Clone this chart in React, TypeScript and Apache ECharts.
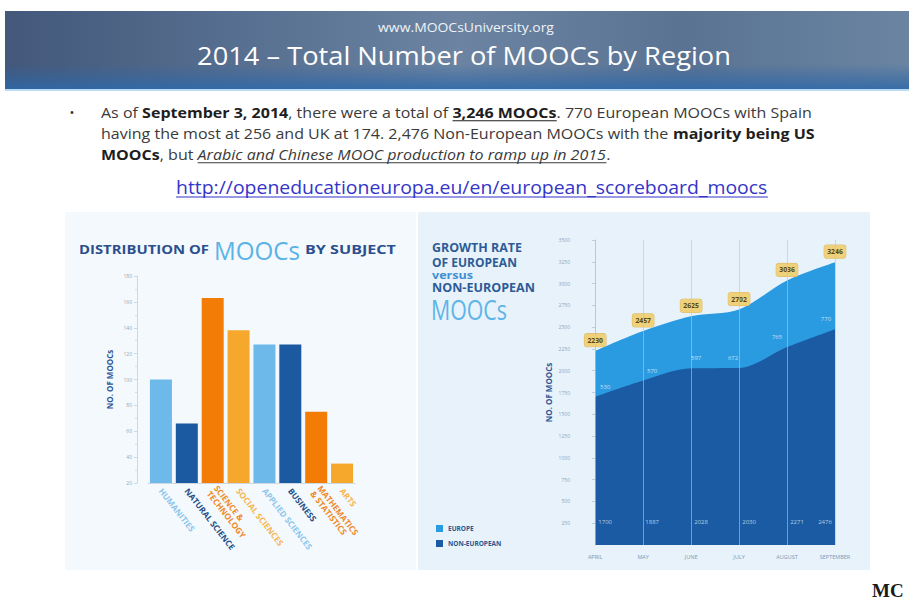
import React, { useEffect, useRef } from 'react';
import * as echarts from 'echarts';

// ---------- data ----------
const subjects = [
  'HUMANITIES',
  'NATURAL SCIENCE',
  'SCIENCE &\nTECHNOLOGY',
  'SOCIAL SCIENCES',
  'APPLIED SCIENCES',
  'BUSINESS',
  'MATHEMATICS\n& STATISTICS',
  'ARTS',
];
const subjectCounts = [100, 66, 163, 138, 127, 127, 75, 35];
const subjectColors = ['#6cb9ea', '#1b5aa0', '#f27c05', '#f6a82c', '#6cb9ea', '#1b5aa0', '#f27c05', '#f6a82c'];
const subjectLabelColors = ['#8cc6ec', '#234f86', '#f08a2a', '#f6b552', '#8cc6ec', '#234f86', '#f08a2a', '#f6b552'];

const months = ['APRIL', 'MAY', 'JUNE', 'JULY', 'AUGUST', 'SEPTEMBER'];
const europe = [530, 570, 597, 672, 765, 770];
const nonEuropean = [1700, 1887, 2028, 2030, 2271, 2476];

const EU_COLOR = '#2a9be0';
const NONEU_COLOR = '#1a5ba3';

const SANS = 'Open Sans';

export default function App() {
  const ref = useRef<HTMLDivElement>(null);

  useEffect(() => {
    if (!ref.current) return;
    const chart = echarts.init(ref.current, null, { renderer: 'svg', width: 909, height: 599 });

    const cv = document.createElement('canvas');
    const ctx = cv.getContext('2d') as CanvasRenderingContext2D;
    const mw = (t: string, size: number, family: string, weight = 'normal', style = 'normal') => {
      ctx.font = `${style} ${weight} ${size}px "${family}"`;
      return ctx.measureText(t).width;
    };

    const fitText = (
      text: string, x: number, y: number, w: number, size: number,
      weight: string, fill: string, family = SANS, align = 'left', style = 'normal'
    ) => ({
      type: 'text',
      x, y,
      scaleX: w / mw(text, size, family, weight, style),
      style: {
        text, fontSize: size, fontFamily: family, fontWeight: weight, fontStyle: style,
        fill, textAlign: align, textVerticalAlign: 'middle',
      },
    });

    type Seg = [string, string];
    const lineGroup = (x: number, y: number, segs: Seg[], size: number, scaleX: number) => {
      let cx = 0;
      const children: any[] = [];
      segs.forEach(([t, f]) => {
        const weight = f.includes('b') ? 'bold' : 'normal';
        const style = f.includes('i') ? 'italic' : 'normal';
        const fill = f.includes('b') ? '#1e1e1e' : '#3a3a3a';
        const w = mw(t, size, SANS, weight, style);
        children.push({
          type: 'text', x: cx, y: 0,
          style: { text: t, fontSize: size, fontFamily: SANS, fontWeight: weight, fontStyle: style, fill, textAlign: 'left', textVerticalAlign: 'middle' },
        });
        if (f.includes('u')) {
          const tw = mw(t.replace(/\s+$/, ''), size, SANS, weight, style);
          children.push({ type: 'line', shape: { x1: cx, y1: size * 0.62, x2: cx + tw, y2: size * 0.62 }, style: { stroke: fill, lineWidth: 1 } });
        }
        cx += w;
      });
      return { type: 'group', x, y, scaleX, children };
    };
    const segWidth = (segs: Seg[], size: number) =>
      segs.reduce((s, [t, f]) => s + mw(t, size, SANS, f.includes('b') ? 'bold' : 'normal', f.includes('i') ? 'italic' : 'normal'), 0);

    const line1: Seg[] = [['As of ', ''], ['September 3, 2014', 'b'], [', there were a total of ', ''], ['3,246 MOOCs', 'bu'], ['. 770 European MOOCs with Spain', '']];
    const line2: Seg[] = [['having the most at 256 and UK at 174. 2,476 Non-European MOOCs with the ', ''], ['majority being US', 'b']];
    const line3: Seg[] = [['MOOCs', 'b'], [', but ', ''], ['Arabic and Chinese MOOC production to ramp up in 2015', 'iu'], ['.', '']];
    const BODY = 14;
    const bodyScale = 711 / segWidth(line1, BODY);

    const url = 'http://openeducationeuropa.eu/en/european_scoreboard_moocs';
    const urlSize = 17.5;
    const urlScale = 592 / mw(url, urlSize, SANS);

    const graphics: any[] = [
      // panels
      { type: 'rect', shape: { x: 65, y: 212, width: 351, height: 358 }, style: { fill: '#f4f9fd' } },
      { type: 'rect', shape: { x: 418, y: 212, width: 452, height: 358 }, style: { fill: '#e8f2fa' } },
      // header banner
      {
        type: 'rect', shape: { x: 5, y: 11, width: 904, height: 79 },
        style: {
          fill: {
            type: 'linear', x: 0, y: 0, x2: 1, y2: 0,
            colorStops: [
              { offset: 0, color: '#43587a' }, { offset: 0.25, color: '#566e8f' },
              { offset: 0.5, color: '#6c84a2' }, { offset: 0.75, color: '#5a7393' },
              { offset: 1, color: '#6a84a2' },
            ],
          },
        },
      },
      {
        type: 'rect', shape: { x: 5, y: 64, width: 904, height: 26 },
        style: {
          fill: {
            type: 'linear', x: 0, y: 0, x2: 0, y2: 1,
            colorStops: [{ offset: 0, color: 'rgba(45,100,165,0)' }, { offset: 1, color: 'rgba(45,105,170,0.85)' }],
          },
        },
      },
      { type: 'rect', shape: { x: 5, y: 89, width: 904, height: 2 }, style: { fill: '#b9dbf3' } },
      fitText('www.MOOCsUniversity.org', 466, 27, 176, 12, 'normal', '#eef3f8', SANS, 'center'),
      fitText('2014 \u2013 Total Number of MOOCs by Region', 464, 55, 534, 26, 'normal', '#ffffff', SANS, 'center'),
      // bullet text
      { type: 'text', x: 72, y: 112, style: { text: '\u2022', fontSize: 13, fontFamily: SANS, fill: '#333', textAlign: 'center', textVerticalAlign: 'middle' } },
      lineGroup(101, 112, line1, BODY, bodyScale),
      lineGroup(101, 133, line2, BODY, bodyScale),
      lineGroup(101, 154, line3, BODY, bodyScale),
      {
        type: 'group', x: 176, y: 187, scaleX: urlScale,
        children: [
          { type: 'text', x: 0, y: 0, style: { text: url, fontSize: urlSize, fontFamily: SANS, fill: '#3535c8', textAlign: 'left', textVerticalAlign: 'middle' } },
          { type: 'line', shape: { x1: 0, y1: 10, x2: mw(url, urlSize, SANS), y2: 10 }, style: { stroke: '#3535c8', lineWidth: 1 } },
        ],
      },
      // left chart title
      fitText('DISTRIBUTION OF', 79, 249, 130, 13, 'bold', '#2b4f8c'),
      fitText('MOOCs', 214, 250, 86, 26, 'normal', '#5ab3e6'),
      fitText('BY SUBJECT', 305, 249, 91, 13, 'bold', '#2b4f8c'),
      // right chart title
      fitText('GROWTH RATE', 432, 248, 90, 12, 'bold', '#2d5b96'),
      fitText('OF EUROPEAN', 432, 263, 85, 12, 'bold', '#2d5b96'),
      fitText('versus', 432, 275, 41, 10.5, 'bold', '#3d91d4'),
      fitText('NON-EUROPEAN', 432, 288, 103, 12, 'bold', '#2d5b96'),
      fitText('MOOCs', 431, 309, 76, 28, 'normal', '#5db5e8'),
      // bottom-right logo (cut in the original slide)
      { type: 'text', x: 872, y: 590, style: { text: 'MC', fontSize: 19, fontFamily: 'Liberation Serif', fontWeight: 'bold', fill: '#1a1a1a', textAlign: 'left', textVerticalAlign: 'middle' } },
    ];

    const totals = nonEuropean.map((v, i) => v + europe[i]);

    const option: any = {
      animation: false,
      backgroundColor: '#ffffff',
      graphic: { elements: graphics },
      legend: {
        data: [{ name: 'EUROPE' }, { name: 'NON-EUROPEAN' }],
        orient: 'vertical', left: 431, top: 520, itemWidth: 7, itemHeight: 7, itemGap: 8, icon: 'rect',
        textStyle: { fontSize: 6.5, fontWeight: 'bold', color: '#2b568f', fontFamily: SANS },
        selectedMode: false,
      },
      grid: [
        { left: 148, top: 276, width: 207, height: 207 },
        { left: 576, top: 240, width: 259, height: 305 },
      ],
      xAxis: [
        {
          type: 'category', gridIndex: 0, data: subjects,
          axisLine: { lineStyle: { color: '#cdd8e3' } },
          axisTick: { show: false },
          axisLabel: {
            interval: 0, rotate: -52, margin: 6, fontSize: 8.3, fontWeight: 'bold', fontFamily: SANS, lineHeight: 9,
            color: (_v: any, i: number) => subjectLabelColors[i],
          },
        },
        {
          type: 'value', gridIndex: 1, min: -0.4, max: 5,
          axisLine: { show: false }, axisTick: { show: false }, splitLine: { show: false },
          axisLabel: {
            customValues: [0, 1, 2, 3, 4, 5],
            formatter: (v: number) => months[Math.round(v)] ?? '',
            fontSize: 5.5, color: '#7c98b6', fontFamily: SANS, margin: 9,
          },
        },
      ],
      yAxis: [
        {
          type: 'value', gridIndex: 0, min: 20, max: 180, interval: 20, offset: 11,
          name: 'NO. OF MOOCs', nameLocation: 'middle', nameGap: 24, nameRotate: 90,
          nameTextStyle: { fontSize: 8, fontWeight: 'bold', color: '#2e5795', fontFamily: SANS },
          axisLine: { show: true, lineStyle: { color: '#cfd7e0' } },
          axisTick: { show: true, length: 3, lineStyle: { color: '#cfd7e0' } },
          minorTick: { show: true, splitNumber: 2, length: 2, lineStyle: { color: '#d8dfe6' } },
          splitLine: { show: false },
          axisLabel: { fontSize: 5, color: '#9aa6b2', margin: 5, fontFamily: SANS },
        },
        {
          type: 'value', gridIndex: 1, min: 0, max: 3500, interval: 250,
          name: 'NO. OF MOOCs', nameLocation: 'middle', nameGap: 24, nameRotate: 90,
          nameTextStyle: { fontSize: 8, fontWeight: 'bold', color: '#2e5795', fontFamily: SANS },
          axisLine: { show: true, lineStyle: { color: '#bccbd9' } },
          axisTick: { show: true, length: 3, lineStyle: { color: '#bccbd9' } },
          splitLine: { show: false },
          axisLabel: { fontSize: 5, color: '#8fa5bb', margin: 6, showMinLabel: false, fontFamily: SANS, formatter: (v: number) => String(v) },
        },
      ],
      series: [
        {
          type: 'bar', xAxisIndex: 0, yAxisIndex: 0, barWidth: 22,
          data: subjectCounts.map((v, i) => ({ value: v, itemStyle: { color: subjectColors[i] } })),
        },
        {
          name: 'EUROPE', type: 'line', xAxisIndex: 1, yAxisIndex: 1, smooth: 0.3,
          data: totals.map((v, i) => [i, v]),
          symbol: 'circle', symbolSize: 0, itemStyle: { color: EU_COLOR },
          lineStyle: { width: 0 }, areaStyle: { color: EU_COLOR, opacity: 1 },
          label: {
            show: true, position: 'top', distance: 4,
            formatter: (p: any) => String(totals[p.dataIndex]),
            backgroundColor: '#efd17a', borderColor: '#d9b459', borderWidth: 0.5, borderRadius: 2,
            padding: [3, 3], color: '#5a4614', fontSize: 6.8, fontWeight: 'bold', fontFamily: SANS,
          },
          z: 2,
        },
        {
          name: 'NON-EUROPEAN', type: 'line', xAxisIndex: 1, yAxisIndex: 1, smooth: 0.3,
          data: nonEuropean.map((v, i) => [i, v]),
          symbol: 'circle', symbolSize: 0, itemStyle: { color: NONEU_COLOR },
          lineStyle: { width: 0 }, areaStyle: { color: NONEU_COLOR, opacity: 1 },
          markLine: {
            silent: true, symbol: ['none', 'none'], label: { show: false },
            lineStyle: { color: '#e2c36c', width: 1, type: 'solid', opacity: 0.6 },
            data: months.map((_, i) => ({ xAxis: i })),
          },
          z: 3,
        },
        {
          type: 'scatter', xAxisIndex: 1, yAxisIndex: 1, symbolSize: 0, z: 6, silent: true,
          data: nonEuropean.map((v, i) => ({ value: [i, v], label: { offset: [[10, 9, 5, -6, -10, -9][i], 0] } })),
          label: {
            show: true, position: 'top', distance: 7,
            formatter: (p: any) => String(europe[p.dataIndex]),
            color: '#e6f3ff', fontSize: 6, fontFamily: SANS,
          },
        },
        {
          type: 'scatter', xAxisIndex: 1, yAxisIndex: 1, symbolSize: 0, z: 6, silent: true,
          data: nonEuropean.map((v, i) => ({ value: [i, 260], label: { offset: [[10, 9, 10, 10, 10, -10][i], 0] } })),
          label: {
            show: true, position: 'inside',
            formatter: (p: any) => String(nonEuropean[p.dataIndex]),
            color: '#dbeaf8', fontSize: 6, fontFamily: SANS,
          },
        },
      ],
    };

    chart.setOption(option);
    return () => chart.dispose();
  }, []);

  return <div ref={ref} style={{ position: 'absolute', left: 0, top: 0, width: 909, height: 599 }} />;
}
